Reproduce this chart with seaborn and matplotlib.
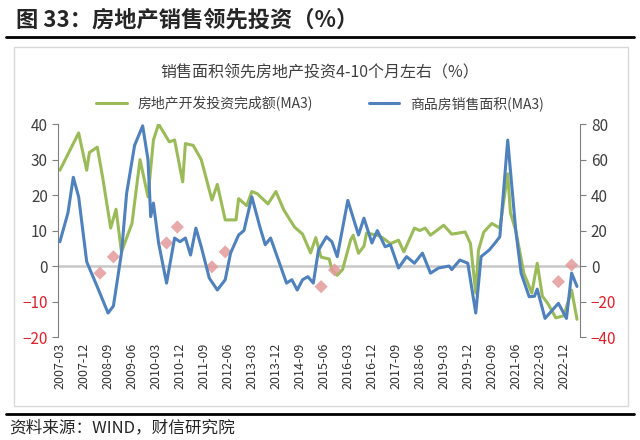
import matplotlib
matplotlib.use("Agg")
import matplotlib.pyplot as plt
import pandas as pd
import seaborn as sns

# green series: 房地产开发投资完成额(MA3), left axis
inv_dates = ['2007-03', '2007-10', '2008-01', '2008-02', '2008-05', '2008-07', '2008-10', '2008-12',
             '2009-02', '2009-06', '2009-09', '2009-12', '2010-02', '2010-04', '2010-08', '2010-10',
             '2011-01', '2011-02', '2011-05', '2011-08', '2011-12', '2012-02', '2012-05', '2012-09',
             '2012-10', '2013-01', '2013-03', '2013-05', '2013-09', '2013-12', '2014-03', '2014-07',
             '2014-10', '2015-01', '2015-03', '2015-05', '2015-08', '2015-09', '2015-11', '2016-01',
             '2016-04', '2016-05', '2016-07', '2016-09', '2016-10', '2017-02', '2017-04', '2017-07',
             '2017-10', '2017-12', '2018-04', '2018-06', '2018-08', '2018-10', '2019-03', '2019-06',
             '2019-11', '2020-01', '2020-03', '2020-04', '2020-06', '2020-09', '2020-12', '2021-03',
             '2021-04', '2021-06', '2021-09', '2021-12', '2022-02', '2022-04', '2022-06', '2022-09',
             '2022-12', '2023-03', '2023-05']
inv_vals = [27, 37.5, 27, 32, 33.5, 25, 10.7, 16, 4, 12, 30, 19.5, 35.5, 40, 35, 35.5,
            23.7, 34.5, 34, 30, 18.6, 23, 13, 13, 19, 17, 21, 20.4, 17.5, 21, 15.8, 11,
            9, 3.7, 8, 2.5, 2, -1, -2.6, -1, 7.3, 8.7, 3.6, 5.6, 9.3, 8.7, 8, 6.3,
            7.3, 4, 10.7, 10, 10.7, 8.7, 11.5, 9, 9.6, 6.3, -7.6, 4.5, 9.6, 12, 10.7, 26,
            15, 10, -2, -7.6, 0.8, -8.5, -10.5, -14.6, -14, -6.8, -15]

# blue series: 商品房销售面积(MA3), right axis
sal_dates = ['2007-03', '2007-06', '2007-08', '2007-10', '2008-01', '2008-05', '2008-09', '2008-11',
             '2009-02', '2009-04', '2009-07', '2009-10', '2009-12', '2010-01', '2010-02', '2010-04',
             '2010-07', '2010-10', '2010-12', '2011-02', '2011-04', '2011-06', '2011-08', '2011-11',
             '2012-02', '2012-05', '2012-07', '2012-10', '2012-12', '2013-03', '2013-06', '2013-08',
             '2013-10', '2013-12', '2014-04', '2014-06', '2014-08', '2014-10', '2014-12', '2015-02',
             '2015-04', '2015-07', '2015-09', '2015-11', '2016-03', '2016-07', '2016-09', '2016-12',
             '2017-02', '2017-05', '2017-07', '2017-10', '2018-01', '2018-04', '2018-07', '2018-10',
             '2019-01', '2019-05', '2019-06', '2019-09', '2019-12', '2020-03', '2020-05', '2020-08',
             '2020-10', '2020-12', '2021-03', '2021-06', '2021-08', '2021-11', '2022-01', '2022-02',
             '2022-05', '2022-10', '2023-01', '2023-03', '2023-05']
sal_vals = [13.7, 30, 50, 39, 2.4, -11.7, -26.5, -22.5, 7.3, 41, 68, 79, 60, 27.8, 35.5, 13,
            -9.6, 15.8, 13.7, 15.8, 6.2, 21.4, 10.9, -6.8, -13.5, -7.7, 7.3, 17.5, 20, 39, 22, 12,
            15.8, 7.3, -9.6, -7.7, -13.5, -7.7, -6, -9.6, 9, 16.5, 13.7, 5.3, 37, 17.5, 27, 13,
            20, 10.9, 12, -1.1, 5.3, 1.6, 7.3, -4, -1.1, 0, -2, 3.4, 1.6, -26.5, 5.3, 9,
            12.6, 16.5, 71, 20, -4, -17.3, -17, -13, -29.5, -21, -29.5, -4, -11.5]

# pink markers (left axis)
mark_dates = ['2008-06', '2008-11', '2010-07', '2010-11', '2011-12', '2012-05', '2015-05', '2015-10',
              '2022-10', '2023-03']
mark_vals = [-2, 2.6, 6.5, 11, -0.2, 4, -5.8, -1.1, -4.4, 0.3]

tick_labels = ['2007-03', '2007-12', '2008-09', '2009-06', '2010-03', '2010-12', '2011-09', '2012-06',
               '2013-03', '2013-12', '2014-09', '2015-06', '2016-03', '2016-12', '2017-09', '2018-06',
               '2019-03', '2019-12', '2020-09', '2021-06', '2022-03', '2022-12']

sns.set_style("white")
plt.rcParams['font.family'] = ['Noto Sans CJK SC', 'DejaVu Sans']

inv = pd.DataFrame({'date': pd.to_datetime(inv_dates), 'v': inv_vals})
sal = pd.DataFrame({'date': pd.to_datetime(sal_dates), 'v': sal_vals})
mk = pd.DataFrame({'date': pd.to_datetime(mark_dates), 'v': mark_vals})

green = '#9bbb59'
blue = '#4f81bd'

fig = plt.figure(figsize=(6.4, 4.4), dpi=100)
# light chart frame
fig.add_artist(plt.Rectangle((0.022, 0.077), 0.96, 0.816, fill=False, edgecolor='#d9d9d9', lw=1))
ax = fig.add_axes([0.091, 0.234, 0.816, 0.484])
ax2 = ax.twinx()

sns.lineplot(data=inv, x='date', y='v', ax=ax, color=green, lw=2.2, label='房地产开发投资完成额(MA3)', legend=False)
sns.lineplot(data=sal, x='date', y='v', ax=ax2, color=blue, lw=2.2, label='商品房销售面积(MA3)', legend=False)
ax.scatter(mk['date'], mk['v'], marker='D', s=45, color='#e39a9a', alpha=0.85, zorder=5, edgecolor='none')

ax.axhline(0, color='#c8c8c8', lw=1.8, zorder=0)
ax.set_ylim(-20, 40)
ax2.set_ylim(-40, 80)
ax.set_yticks(range(-20, 41, 10))
ax2.set_yticks(range(-40, 81, 20))
ax.set_xlim(pd.Timestamp('2007-02-10'), pd.Timestamp('2023-06-10'))
ax.set_xticks(pd.to_datetime(tick_labels))
ax.set_xticklabels(tick_labels, rotation=90, fontsize=9, color='#333333')
ax.tick_params(axis='x', length=0, pad=4)
for a in (ax, ax2):
    a.set_xlabel('')
    a.set_ylabel('')
    a.spines['top'].set_visible(False)
    a.spines['bottom'].set_visible(False)
    a.tick_params(axis='y', labelsize=11, length=4, color='#7f7f7f')
ax.spines['left'].set_color('#7f7f7f')
ax2.spines['right'].set_color('#7f7f7f')
ax.spines['right'].set_visible(False)
ax2.spines['left'].set_visible(False)
for t, val in zip(ax.get_yticklabels(), range(-20, 41, 10)):
    t.set_color('#e0202a' if val < 0 else '#404040')
for t, val in zip(ax2.get_yticklabels(), range(-40, 81, 20)):
    t.set_color('#e0202a' if val < 0 else '#404040')

h1, l1 = ax.get_legend_handles_labels()
h2, l2 = ax2.get_legend_handles_labels()
fig.legend(h1 + h2, l1 + l2, loc='center', bbox_to_anchor=(0.5, 0.765), ncol=2, frameon=False,
           fontsize=10, columnspacing=4, handlelength=2.2, labelcolor='#404040')

fig.text(0.5, 0.835, '销售面积领先房地产投资4-10个月左右（%）', ha='center', va='center', fontsize=11.5, color='#404040')
fig.text(0.025, 0.955, '图 33：房地产销售领先投资（%）', ha='left', va='center', fontsize=16, fontweight='bold')
fig.add_artist(plt.Line2D([0.01, 0.99], [0.915, 0.915], color='black', lw=2))
fig.add_artist(plt.Line2D([0.01, 0.99], [0.06, 0.06], color='black', lw=2))
fig.text(0.015, 0.027, '资料来源：WIND，财信研究院', ha='left', va='center', fontsize=12, style='italic')

fig.savefig('out.png', dpi=100)
